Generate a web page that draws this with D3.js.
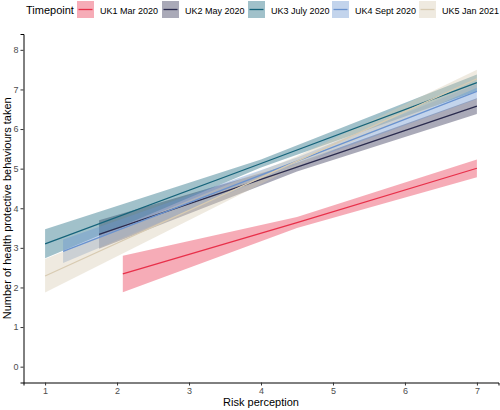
<!DOCTYPE html>
<html><head><meta charset="utf-8">
<script src="https://cdn.jsdelivr.net/npm/d3@7"></script>
<style>body{margin:0;background:#fff}svg{display:block;font-family:"Liberation Sans",Arial,sans-serif}</style>
</head><body><svg id="c" width="500" height="410"></svg>
<script>
const seriesNames = ["UK1 Mar 2020","UK2 May 2020","UK3 July 2020","UK4 Sept 2020","UK5 Jan 2021"];
const lineColors = ["#E8304A","#2A2B4E","#15637A","#6A93CF","#D8CBB2"];
const xTicks = [1,2,3,4,5,6,7];
const yTicks = [0,1,2,3,4,5,6,7,8];
// x positions, fitted values, lower and upper CI
const xsUK1 = [2.08, 4.5, 7], fitUK1 = [2.34, 3.64, 5.01], loUK1 = [1.88, 3.50, 4.78], hiUK1 = [2.80, 3.78, 5.23];
const xsUK2 = [1.75, 4.5, 7], fitUK2 = [3.34, 5.04, 6.58], loUK2 = [2.98, 4.93, 6.38], hiUK2 = [3.70, 5.15, 6.78];
const xsUK3 = [1, 4, 7],      fitUK3 = [3.10, 5.13, 7.17], loUK3 = [2.74, 5.03, 6.96], hiUK3 = [3.47, 5.23, 7.38];
const xsUK4 = [1.25, 4.5, 7], fitUK4 = [2.91, 5.19, 6.95], loUK4 = [2.62, 5.10, 6.76], hiUK4 = [3.21, 5.28, 7.14];
const xsUK5 = [1, 4.5, 7],    fitUK5 = [2.29, 5.19, 7.27], loUK5 = [1.87, 5.07, 7.04], hiUK5 = [2.72, 5.31, 7.50];

const series = [
  [xsUK1, fitUK1, loUK1, hiUK1],
  [xsUK2, fitUK2, loUK2, hiUK2],
  [xsUK3, fitUK3, loUK3, hiUK3],
  [xsUK4, fitUK4, loUK4, hiUK4],
  [xsUK5, fitUK5, loUK5, hiUK5]
].map((s, i) => ({name: seriesNames[i], color: lineColors[i],
  pts: s[0].map((x, j) => ({x, fit: s[1][j], lo: s[2][j], hi: s[3][j]}))}));

const svg = d3.select("#c");
const x = d3.scaleLinear().domain([0.7, 7.3]).range([23.5, 498.5]);
const y = d3.scaleLinear().domain([-0.4, 8.4]).range([382.5, 34]);

const area = d3.area().x(d => x(d.x)).y0(d => y(d.lo)).y1(d => y(d.hi));
const line = d3.line().x(d => x(d.x)).y(d => y(d.fit));

svg.append("g").selectAll("path").data(series).join("path")
  .attr("d", d => area(d.pts)).attr("fill", d => d.color).attr("fill-opacity", 0.4);
svg.append("g").selectAll("path").data(series).join("path")
  .attr("d", d => line(d.pts)).attr("fill", "none").attr("stroke", d => d.color).attr("stroke-width", 1.3);

// axes
const xAxis = svg.append("g").attr("transform", "translate(0,382.5)")
  .call(d3.axisBottom(x).tickValues(xTicks).tickSize(3).tickPadding(2).tickFormat(d3.format("d")));
const yAxis = svg.append("g").attr("transform", "translate(23.5,0)")
  .call(d3.axisLeft(y).tickValues(yTicks).tickSize(3).tickPadding(2).tickFormat(d3.format("d")));
[xAxis, yAxis].forEach(a => {
  a.select(".domain").attr("stroke", "#000").attr("stroke-width", 1);
  a.selectAll(".tick line").attr("stroke", "#333");
  a.selectAll(".tick text").attr("fill", "#4d4d4d").attr("font-size", 9).attr("font-family", "Liberation Sans, Arial, sans-serif");
});

svg.append("text").attr("x", x(4)).attr("y", 406).attr("text-anchor", "middle")
  .attr("font-size", 11).attr("fill", "#000").text("Risk perception");
svg.append("text").attr("transform", `translate(11,${(382.5+34)/2}) rotate(-90)`).attr("text-anchor", "middle")
  .attr("font-size", 11).attr("fill", "#000").text("Number of health protective behaviours taken");

// legend
const legX = [77, 162, 248, 332, 419];
svg.append("text").attr("x", 26).attr("y", 13.5).attr("font-size", 11).attr("fill", "#000").text("Timepoint");
const lg = svg.append("g").selectAll("g").data(series).join("g")
  .attr("transform", (d, i) => `translate(${legX[i]},1)`);
lg.append("rect").attr("width", 17).attr("height", 17).attr("fill", d => d.color).attr("fill-opacity", 0.4);
lg.append("line").attr("x1", 1.5).attr("x2", 15.5).attr("y1", 8.5).attr("y2", 8.5).attr("stroke", d => d.color).attr("stroke-width", 1.3);
lg.append("text").attr("x", 23).attr("y", 12.5).attr("font-size", 9).attr("fill", "#000").text(d => d.name);
</script></body></html>
